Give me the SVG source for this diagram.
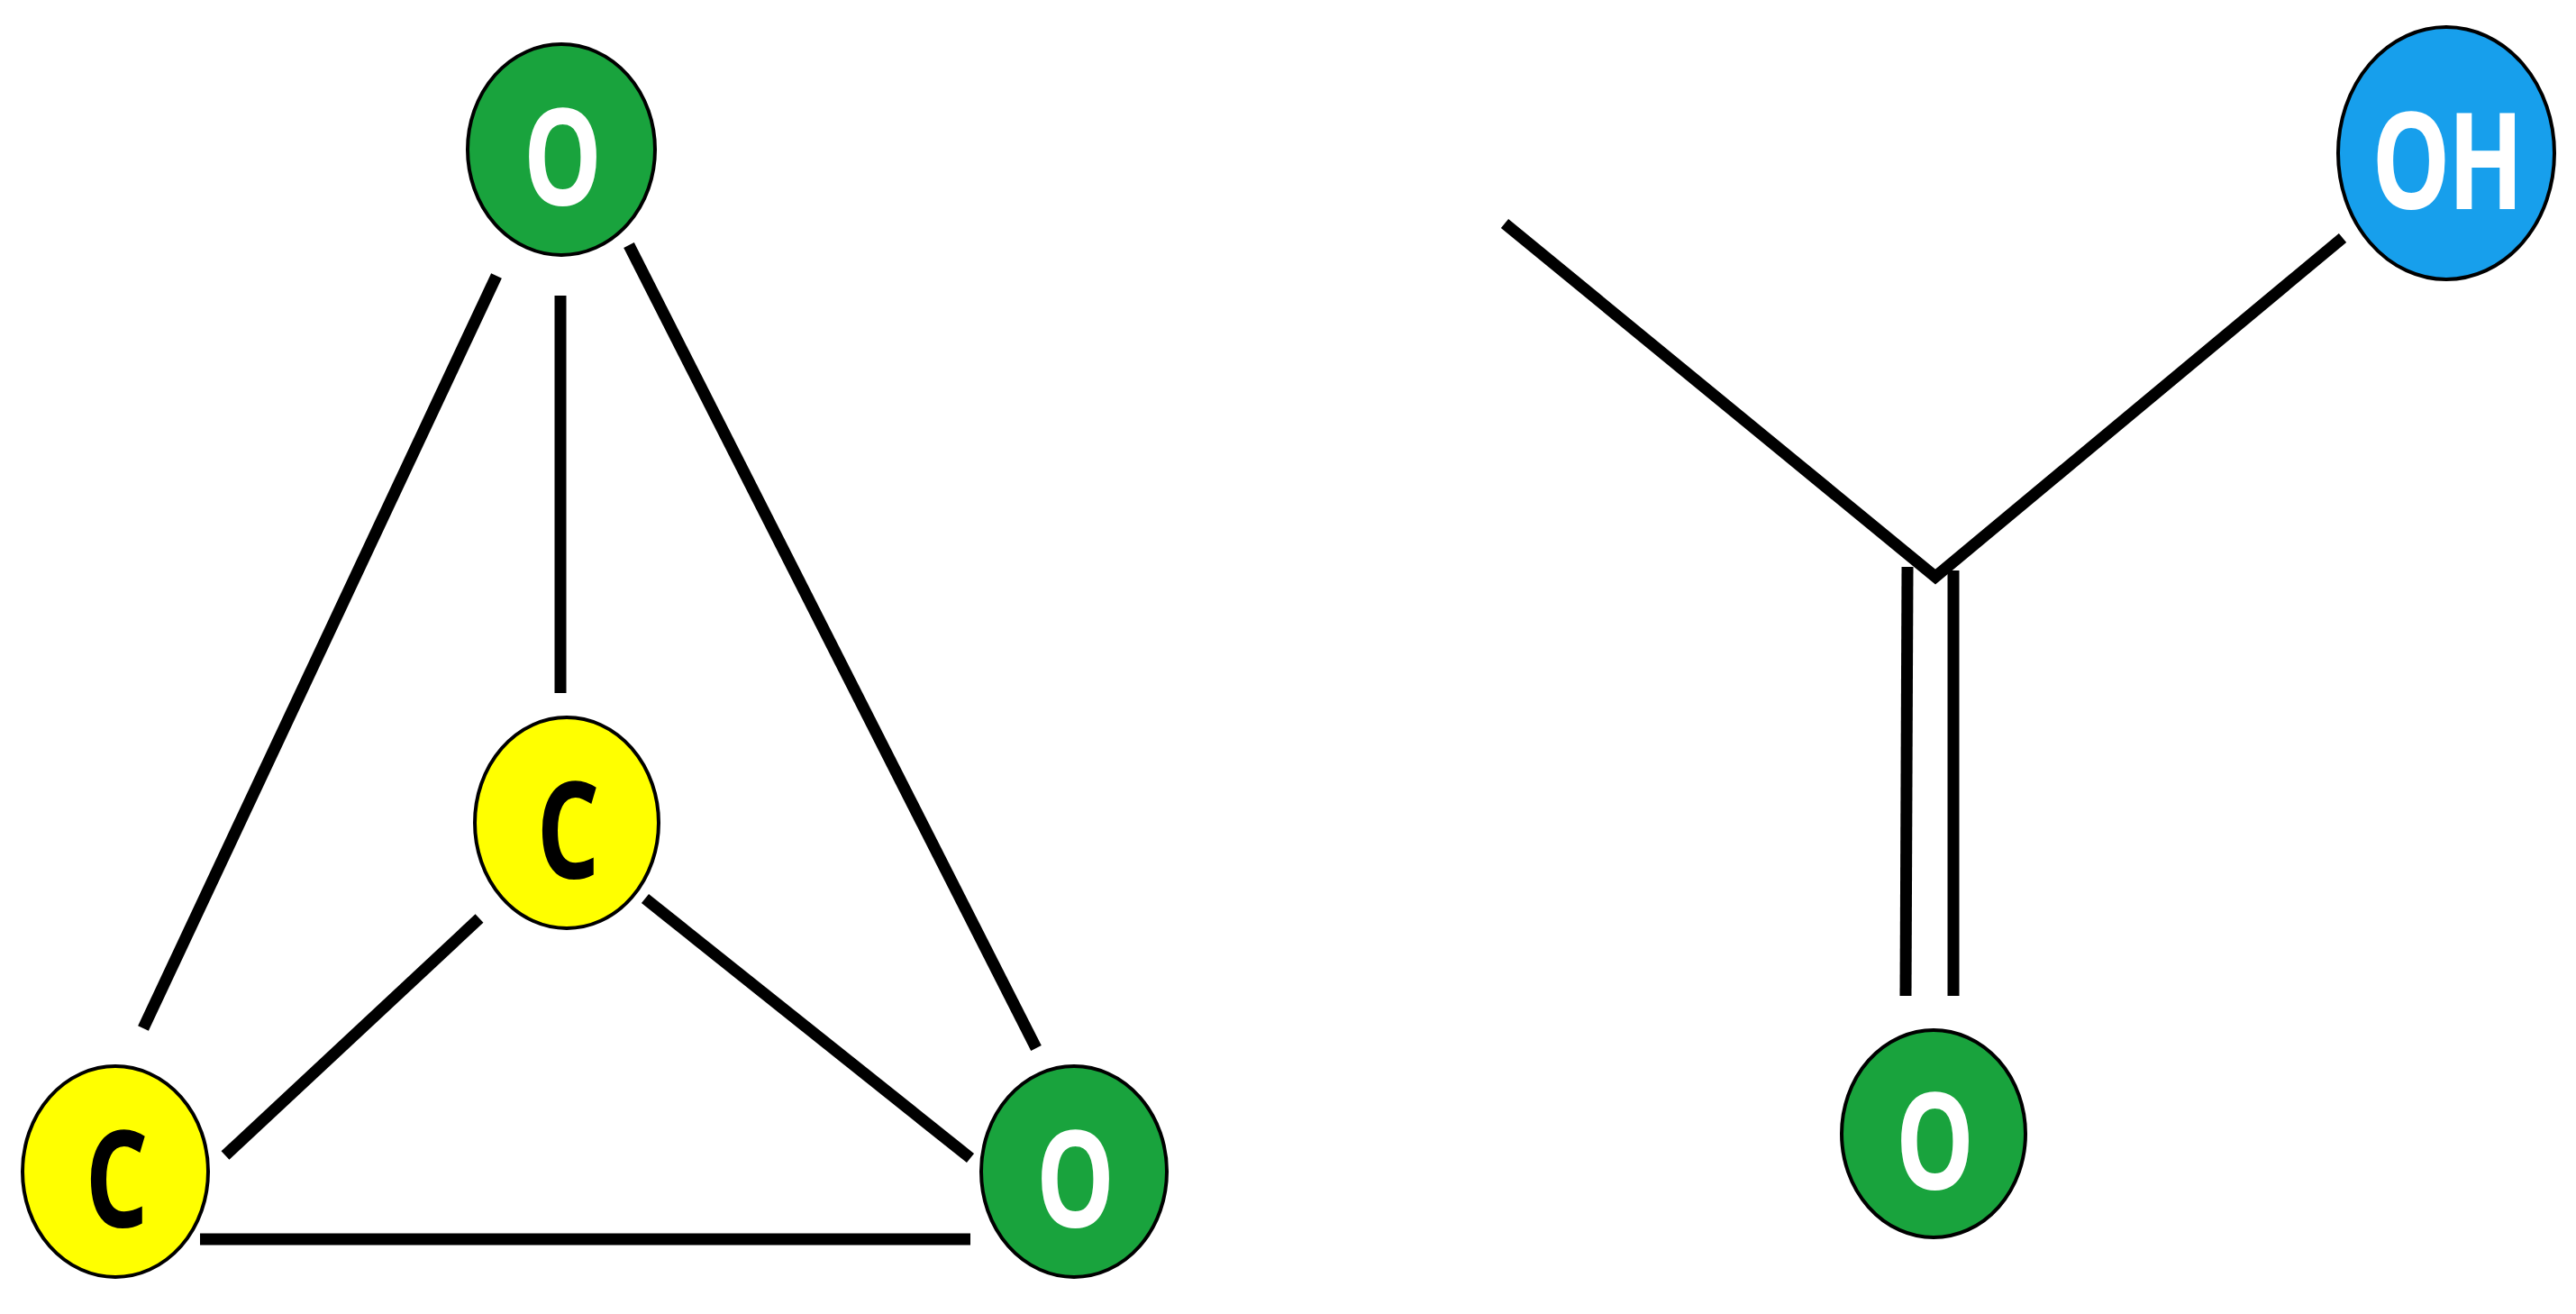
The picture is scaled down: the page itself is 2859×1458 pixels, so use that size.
<svg xmlns="http://www.w3.org/2000/svg" width="2859" height="1458" viewBox="0 0 2859 1458">
<style>
.b{stroke:#000;stroke-width:13;fill:none}
.n{stroke:#000;stroke-width:4}
.g{fill:#19a33d}.y{fill:#ffff00}.bl{fill:#179fec}
.t{font-family:"Open Sans",sans-serif;font-weight:bold;font-size:110px;text-anchor:middle;dominant-baseline:central;letter-spacing:-3px}
.w{fill:#fff}.k{fill:#000}
</style>
<rect width="2859" height="1458" fill="#fff"/>
<g id="connectors">
<line class="b" x1="551" y1="306" x2="159" y2="1141"/>
<line class="b" x1="622" y1="328" x2="622" y2="769"/>
<line class="b" x1="698" y1="272" x2="1150" y2="1163"/>
<line class="b" x1="532" y1="1019" x2="250" y2="1282"/>
<line class="b" x1="716" y1="997" x2="1077" y2="1285"/>
<line class="b" x1="222" y1="1375" x2="1077" y2="1375"/>
<polyline class="b" points="1670,248 2148,640 2600,264"/>
<line class="b" x1="2117" y1="629" x2="2115" y2="1105"/>
<line class="b" x1="2168" y1="633" x2="2168" y2="1105"/>
</g>
<g id="o_top"><ellipse class="n g" cx="623" cy="166" rx="104" ry="117"/><text class="t w" transform="translate(623,170) scale(1,1.35)">O</text></g>
<g id="c_mid"><ellipse class="n y" cx="629" cy="913" rx="102" ry="117"/><text class="t k" transform="translate(629,917) scale(1,1.35)">C</text></g>
<g id="c_left"><ellipse class="n y" cx="128" cy="1300" rx="103" ry="117"/><text class="t k" transform="translate(128,1304) scale(1,1.35)">C</text></g>
<g id="o_right"><ellipse class="n g" cx="1192" cy="1300" rx="103" ry="117"/><text class="t w" transform="translate(1192,1304) scale(1,1.35)">O</text></g>
<g id="oh"><ellipse class="n bl" cx="2715" cy="170" rx="120" ry="140"/><text class="t w" transform="translate(2715,174) scale(1,1.35)">OH</text></g>
<g id="o_bottom"><ellipse class="n g" cx="2146" cy="1258" rx="102" ry="115"/><text class="t w" transform="translate(2146,1262) scale(1,1.35)">O</text></g>
</svg>
